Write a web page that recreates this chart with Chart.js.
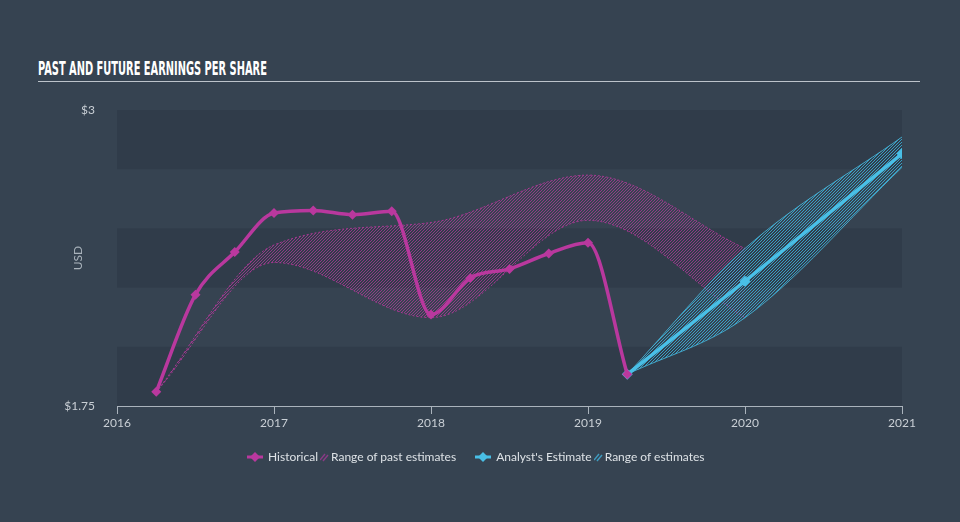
<!DOCTYPE html>
<html lang="en">
<head>
<meta charset="UTF-8">
<title>Past and Future Earnings Per Share</title>
<script src="https://cdn.jsdelivr.net/npm/chart.js"></script>
<style>
  body { margin: 0; width: 960px; height: 522px; overflow: hidden; position: relative; background: #364351; font-family: Lato, "Open Sans", sans-serif; }
  #title { position: absolute; left: 38px; top: 57px; color: #fff; font: bold 19px "Liberation Sans Narrow", "DejaVu Sans Condensed", Roboto, sans-serif; white-space: nowrap; transform-origin: 0 0; }
  #rule { position: absolute; left: 38px; top: 81px; width: 882px; height: 1px; background: #bcc3ca; }
  #chartBox { position: absolute; left: 0; top: 0; }
  #legend { position: absolute; top: 449px; left: 246px; display: flex; align-items: center; font-size: 12px; color: #dde2e6; white-space: nowrap; }
  #legend svg { display: block; margin-right: 4px; }
  #legend svg.hatch { margin-right: 2px; }
  #legend .item { display: flex; align-items: center; }
</style>
</head>
<body>
<div id="title">PAST AND FUTURE EARNINGS PER SHARE</div>
<div id="rule"></div>
<canvas id="chartBox" width="960" height="522"></canvas>
<div id="legend">
  <div class="item">
    <svg width="18" height="12"><line x1="1" y1="6" x2="17" y2="6" stroke="#b9389e" stroke-width="3"/><polygon points="9,1 14,6 9,11 4,6" fill="#b9389e"/></svg>
    <span>Historical</span>
  </div>
  <div class="item" style="margin-left:2px">
    <svg class="hatch" width="9" height="10"><line x1="0" y1="8" x2="5" y2="2" stroke="#8a3b86" stroke-width="1.4"/><line x1="3" y1="9" x2="8" y2="3" stroke="#8a3b86" stroke-width="1.4"/></svg>
    <span>Range of past estimates</span>
  </div>
  <div class="item" style="margin-left:18px">
    <svg width="18" height="12"><line x1="1" y1="6" x2="17" y2="6" stroke="#49bfe6" stroke-width="3"/><polygon points="9,1 14,6 9,11 4,6" fill="#49bfe6"/></svg>
    <span>Analyst's Estimate</span>
  </div>
  <div class="item" style="margin-left:2px">
    <svg class="hatch" width="9" height="10"><line x1="0" y1="8" x2="5" y2="2" stroke="#3f9cc0" stroke-width="1.4"/><line x1="3" y1="9" x2="8" y2="3" stroke="#3f9cc0" stroke-width="1.4"/></svg>
    <span>Range of estimates</span>
  </div>
</div>

<script>
  // quarterly reported EPS
  const histYears = [2016.25, 2016.5, 2016.75, 2017, 2017.25, 2017.5, 2017.75, 2018, 2018.25, 2018.5, 2018.75, 2019, 2019.25];
  const histEps = [1.81, 2.22, 2.40, 2.565, 2.576, 2.558, 2.572, 2.136, 2.291, 2.329, 2.394, 2.439, 1.884];

  // past analyst estimate range
  const pastYears = [2016.25, 2017, 2018, 2019, 2020];
  const pastHigh = [1.81, 2.43, 2.525, 2.725, 2.415];
  const pastLow = [1.81, 2.356, 2.123, 2.534, 2.123];

  // forward estimates
  const futYears = [2019.25, 2020, 2021];
  const futEps = [1.884, 2.277, 2.815];
  const futHigh = [1.884, 2.415, 2.886];
  const futLow = [1.884, 2.123, 2.758];

  const yTicks = [1.75, 3];
  const xTicks = [2016, 2017, 2018, 2019, 2020, 2021];

  const magenta = '#b9389e';
  const cyan = '#49bfe6';

  // fit the condensed title to the reference width
  const t = document.getElementById('title');
  t.style.transform = 'scaleX(' + (229 / t.offsetWidth) + ')';

  function pts(xs, ys) {
    return xs.map((x, i) => ({ x: x, y: ys[i] }));
  }

  // crisp 1px diagonal hatch tile
  function hatch(color, size) {
    const c = document.createElement('canvas');
    c.width = size; c.height = size;
    const g = c.getContext('2d');
    g.fillStyle = color;
    for (let i = 0; i < size; i++) g.fillRect(i, size - 1 - i, 1, 1);
    return g.createPattern(c, 'repeat');
  }

  // alternating horizontal bands every 0.25
  const bands = {
    id: 'bands',
    beforeDatasetsDraw(chart) {
      const { ctx, chartArea } = chart;
      const y = chart.scales.y;
      ctx.save();
      ctx.fillStyle = '#303c4a';
      for (let v = 1.75, i = 0; v < 3; v += 0.25, i++) {
        if (i % 2 === 0) {
          const top = y.getPixelForValue(v + 0.25);
          const bot = y.getPixelForValue(v);
          ctx.fillRect(chartArea.left, top, chartArea.right - chartArea.left, bot - top);
        }
      }
      ctx.restore();
    }
  };

  const config = {
    type: 'line',
    data: {
      datasets: [
        {
          label: 'Historical',
          data: pts(histYears, histEps),
          borderColor: magenta,
          backgroundColor: magenta,
          borderWidth: 3.5,
          pointStyle: 'rectRot',
          pointRadius: 5,
          pointBorderWidth: 0,
          cubicInterpolationMode: 'monotone',
          fill: false,
          order: 1
        },
        {
          label: "Analyst's Estimate",
          data: pts(futYears, futEps),
          borderColor: cyan,
          backgroundColor: cyan,
          borderWidth: 3.5,
          pointStyle: 'rectRot',
          pointRadius: 5.5,
          pointBorderWidth: 0,
          cubicInterpolationMode: 'monotone',
          fill: false,
          order: 2
        },
        {
          label: 'Range of estimates',
          data: pts(futYears, futHigh),
          borderColor: 'rgba(73,191,230,0.8)',
          backgroundColor: hatch('rgba(60,175,215,0.85)', 3),
          borderWidth: 1,
          pointRadius: 0,
          cubicInterpolationMode: 'monotone',
          fill: '+1',
          order: 3
        },
        {
          label: 'Range of estimates low',
          data: pts(futYears, futLow),
          borderColor: 'rgba(73,191,230,0.8)',
          borderWidth: 1,
          pointRadius: 0,
          cubicInterpolationMode: 'monotone',
          fill: false,
          order: 3
        },
        {
          label: 'Range of past estimates',
          data: pts(pastYears, pastHigh),
          borderColor: 'rgba(185,56,158,0.8)',
          backgroundColor: hatch('rgba(185,56,158,0.7)', 3),
          borderWidth: 1,
          borderDash: [2, 2],
          pointRadius: 0,
          cubicInterpolationMode: 'monotone',
          fill: '+1',
          order: 4
        },
        {
          label: 'Range of past estimates low',
          data: pts(pastYears, pastLow),
          borderColor: 'rgba(185,56,158,0.8)',
          borderWidth: 1,
          borderDash: [2, 2],
          pointRadius: 0,
          cubicInterpolationMode: 'monotone',
          fill: false,
          order: 4
        }
      ]
    },
    options: {
      responsive: false,
      animation: false,
      layout: { padding: { left: 57, right: 58, top: 110, bottom: 86 } },
      plugins: {
        legend: { display: false },
        tooltip: { enabled: false }
      },
      scales: {
        x: {
          type: 'linear',
          min: 2016,
          max: 2021,
          afterFit: s => { s.height = 30; },
          afterBuildTicks: s => { s.ticks = xTicks.map(v => ({ value: v })); },
          ticks: {
            color: '#c9cfd5',
            font: { family: 'Lato', size: 12 },
            padding: 2,
            callback: v => String(v)
          },
          grid: {
            display: true,
            drawOnChartArea: false,
            drawTicks: true,
            tickLength: 8,
            color: '#aab3bc'
          },
          border: { display: true, color: '#aab3bc', width: 1 }
        },
        y: {
          type: 'linear',
          min: 1.75,
          max: 3,
          afterFit: s => { s.width = 60; },
          afterBuildTicks: s => { s.ticks = yTicks.map(v => ({ value: v })); },
          ticks: {
            color: '#c9cfd5',
            font: { family: 'Lato', size: 12 },
            padding: 14,
            callback: v => '$' + v
          },
          grid: { display: false },
          border: { display: false },
          title: {
            display: true,
            text: 'USD',
            color: '#aab3bc',
            font: { family: 'Lato', size: 12 },
            padding: { top: 14, bottom: 0 }
          }
        }
      }
    },
    plugins: [bands]
  };

  new Chart(document.getElementById('chartBox'), config);
</script>
</body>
</html>
